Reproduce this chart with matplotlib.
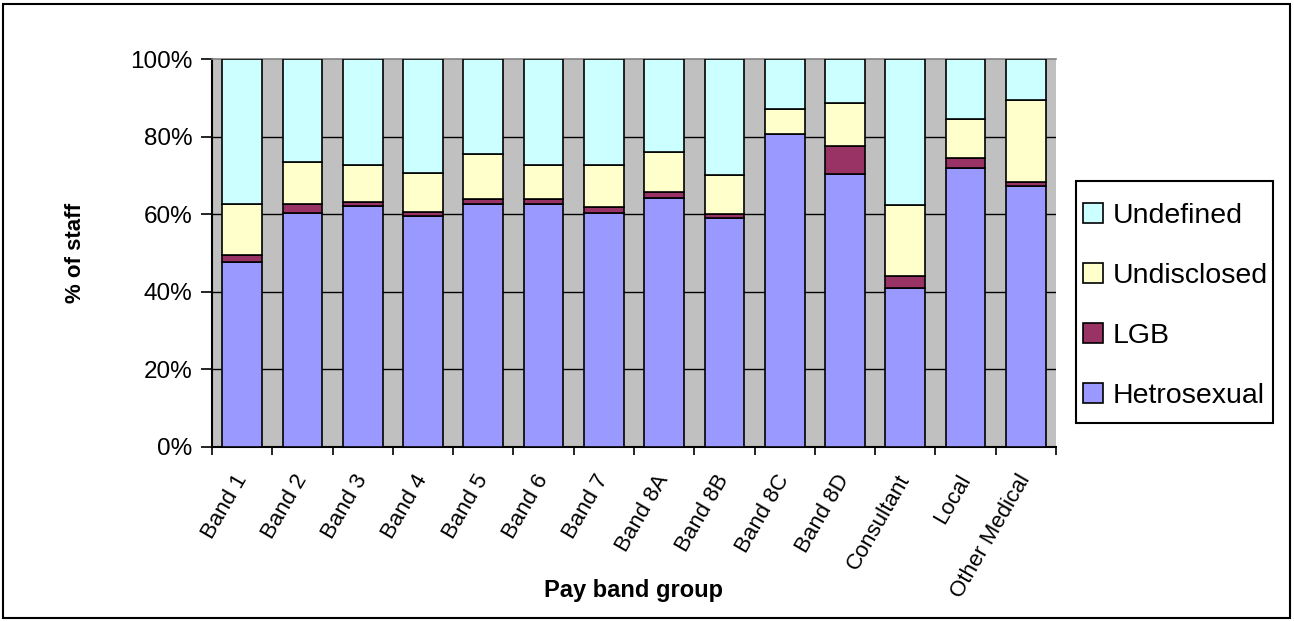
import matplotlib.pyplot as plt
import numpy as np
from matplotlib.patches import Rectangle
from matplotlib.ticker import FixedLocator, PercentFormatter

plt.rcParams['font.family'] = ['Liberation Sans', 'DejaVu Sans']

# data (cumulative tops, converted to shares below)
bands = ['Band 1', 'Band 2', 'Band 3', 'Band 4', 'Band 5', 'Band 6', 'Band 7',
         'Band 8A', 'Band 8B', 'Band 8C', 'Band 8D', 'Consultant', 'Local', 'Other Medical']
hetro = [47.8, 60.2, 62.1, 59.6, 62.7, 62.7, 60.2, 64.2, 59.1, 80.8, 70.5, 41.0, 72.0, 67.3]
lgb = [1.6, 2.5, 1.1, 1.0, 1.2, 1.2, 1.6, 1.6, 1.0, 0.0, 7.1, 3.1, 2.6, 0.9]
undisclosed = [13.3, 10.9, 9.4, 10.0, 11.7, 8.7, 10.8, 10.4, 10.0, 6.3, 11.1, 18.2, 9.9, 21.4]
undefined = [100 - a - b - c for a, b, c in zip(hetro, lgb, undisclosed)]

series = [('Hetrosexual', hetro, '#9999FF'),
          ('LGB', lgb, '#993366'),
          ('Undisclosed', undisclosed, '#FFFFCC'),
          ('Undefined', undefined, '#CCFFFF')]

fig = plt.figure(figsize=(12.94, 6.21), dpi=100)
ax = fig.add_axes([212/1294, 1 - 446.7/621, (1056-212)/1294, (446.7-59.3)/621])
ax.set_facecolor('#C0C0C0')

x = np.arange(len(bands))
bottom = np.zeros(len(bands))
handles = []
for name, vals, col in series:
    b = ax.bar(x, vals, 0.66, bottom=bottom, color=col, edgecolor='black',
               linewidth=1.2, label=name, zorder=3)
    handles.append(b)
    bottom += np.array(vals)

ax.set_xlim(-0.5, len(bands) - 0.5)
ax.set_ylim(0, 100)
ax.set_yticks([0, 20, 40, 60, 80, 100])
ax.yaxis.set_major_formatter(PercentFormatter(decimals=0))
for v in [20, 40, 60, 80]:
    ax.axhline(v, color='black', lw=1, zorder=1)

ax.set_xticks(x)
ax.set_xticklabels(bands, rotation=60, ha='right', rotation_mode='anchor', va='center')
ax.xaxis.set_minor_locator(FixedLocator(np.arange(-0.5, len(bands), 1)))
ax.tick_params(axis='x', which='major', length=0, pad=21, labelsize=16)
ax.tick_params(axis='x', which='minor', length=6, width=1.2, direction='out')
ax.tick_params(axis='y', length=8, width=1.2, direction='out', labelsize=17.5, pad=6)

for s in ['left', 'bottom']:
    ax.spines[s].set_linewidth(1.5)
    ax.spines[s].set_color('black')
ax.spines['top'].set_color('#808080')
ax.spines['top'].set_linewidth(1.2)
ax.spines['right'].set_visible(False)

ax.set_ylabel('% of staff', fontsize=16, fontweight='bold')
ax.yaxis.set_label_coords(-0.149, 0.5)
fig.text(634/1294, 1 - 590/621, 'Pay band group', fontsize=17, fontweight='bold',
         ha='center', va='center')

# legend box drawn separately so its padding can differ from the entry spacing
fig.patches.append(Rectangle((1076/1294, 1 - 423/621), 197/1294, 242/621,
                             transform=fig.transFigure, facecolor='white',
                             edgecolor='black', lw=1.5, zorder=2))
leg = fig.legend(handles[::-1], [s[0] for s in series][::-1], loc='center left',
                 bbox_to_anchor=(1076/1294, 1 - 306/621), borderaxespad=0,
                 fontsize=20.5, frameon=False,
                 handlelength=0.7, handleheight=0.7, handletextpad=0.35,
                 labelspacing=1.2, borderpad=0.25)
leg.set_zorder(5)

fig.patches.append(Rectangle((3/1294, 3/621), 1287/1294, 614/621, transform=fig.transFigure,
                             fill=False, edgecolor='black', lw=1.5))

fig.savefig('out.png', dpi=100)
